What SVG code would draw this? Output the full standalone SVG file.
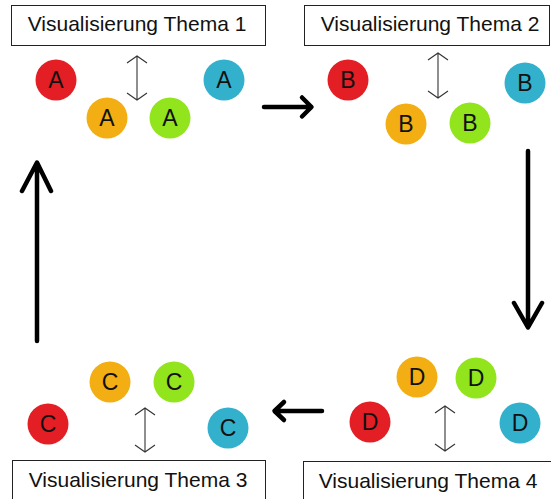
<svg xmlns="http://www.w3.org/2000/svg" width="551" height="499" viewBox="0 0 551 499">
  <style>
    .box { fill: #ffffff; stroke: #222222; stroke-width: 1; }
    .title { font-family: "Liberation Sans", Arial, sans-serif; font-size: 21px; fill: #111111; text-anchor: middle; }
    .dot text { font-family: "Liberation Sans", Arial, sans-serif; font-size: 23px; fill: #111111; text-anchor: middle; }
    .red { fill: #e31e24; }
    .orange { fill: #f2ae12; }
    .green { fill: #92e41c; }
    .blue { fill: #33b1cc; }
    .flow { fill: none; stroke: #000000; stroke-width: 4.5; stroke-linecap: round; stroke-linejoin: round; }
    .swap { fill: none; stroke: #333333; stroke-width: 1.1; }
  </style>

  <!-- Theme 1 -->
  <g id="thema1">
    <rect class="box" x="11.5" y="5.5" width="254" height="40"/>
    <text class="title" x="137" y="31">Visualisierung Thema 1</text>
    <g class="dot"><circle class="red" cx="56" cy="80" r="20.5"/><text x="56" y="88">A</text></g>
    <g class="dot"><circle class="blue" cx="224" cy="80" r="20.5"/><text x="224" y="88">A</text></g>
    <g class="dot"><circle class="orange" cx="107" cy="118" r="20.5"/><text x="107" y="126">A</text></g>
    <g class="dot"><circle class="green" cx="170" cy="118" r="20.5"/><text x="170" y="126">A</text></g>
    <path class="swap" d="M137 56 V100 M127 63 L137 56 L147 63 M127 93 L137 100 L147 93"/>
  </g>

  <!-- Theme 2 -->
  <g id="thema2">
    <rect class="box" x="304.5" y="5.5" width="245" height="40"/>
    <text class="title" x="430" y="31">Visualisierung Thema 2</text>
    <g class="dot"><circle class="red" cx="348" cy="80" r="20.5"/><text x="348" y="88">B</text></g>
    <g class="dot"><circle class="blue" cx="525" cy="83" r="20.5"/><text x="525" y="91">B</text></g>
    <g class="dot"><circle class="orange" cx="406" cy="124" r="20.5"/><text x="406" y="132">B</text></g>
    <g class="dot"><circle class="green" cx="470" cy="123" r="20.5"/><text x="470" y="131">B</text></g>
    <path class="swap" d="M438 53 V98 M428 60 L438 53 L448 60 M428 91 L438 98 L448 91"/>
  </g>

  <!-- Theme 3 -->
  <g id="thema3">
    <rect class="box" x="12.5" y="460.5" width="253" height="45"/>
    <text class="title" x="138" y="487">Visualisierung Thema 3</text>
    <g class="dot"><circle class="orange" cx="110" cy="382" r="20.5"/><text x="110" y="390">C</text></g>
    <g class="dot"><circle class="green" cx="174" cy="382" r="20.5"/><text x="174" y="390">C</text></g>
    <g class="dot"><circle class="red" cx="48" cy="424" r="20.5"/><text x="48" y="432">C</text></g>
    <g class="dot"><circle class="blue" cx="228" cy="428" r="20.5"/><text x="228" y="436">C</text></g>
    <path class="swap" d="M145 408 V452 M135 415 L145 408 L155 415 M135 445 L145 452 L155 445"/>
  </g>

  <!-- Theme 4 -->
  <g id="thema4">
    <rect class="box" x="303.5" y="461.5" width="255" height="45"/>
    <text class="title" x="428" y="488">Visualisierung Thema 4</text>
    <g class="dot"><circle class="orange" cx="417" cy="377" r="20.5"/><text x="417" y="385">D</text></g>
    <g class="dot"><circle class="green" cx="476" cy="378" r="20.5"/><text x="476" y="386">D</text></g>
    <g class="dot"><circle class="red" cx="370" cy="422" r="20.5"/><text x="370" y="430">D</text></g>
    <g class="dot"><circle class="blue" cx="520" cy="423" r="20.5"/><text x="520" y="431">D</text></g>
    <path class="swap" d="M445 406 V451 M435 413 L445 406 L455 413 M435 444 L445 451 L455 444"/>
  </g>

  <!-- Cycle connectors -->
  <g id="connectors">
    <path class="flow" d="M264 107 H311 M302 97.5 L311.5 107 L302 116.5"/>
    <path class="flow" d="M528 151 V327 M514 303 L528 327.5 L542 303"/>
    <path class="flow" d="M322 411 H275 M284 402 L274.5 411 L284 420"/>
    <path class="flow" d="M37 341 V163 M22 191 L37 162.5 L51 191"/>
  </g>
</svg>
